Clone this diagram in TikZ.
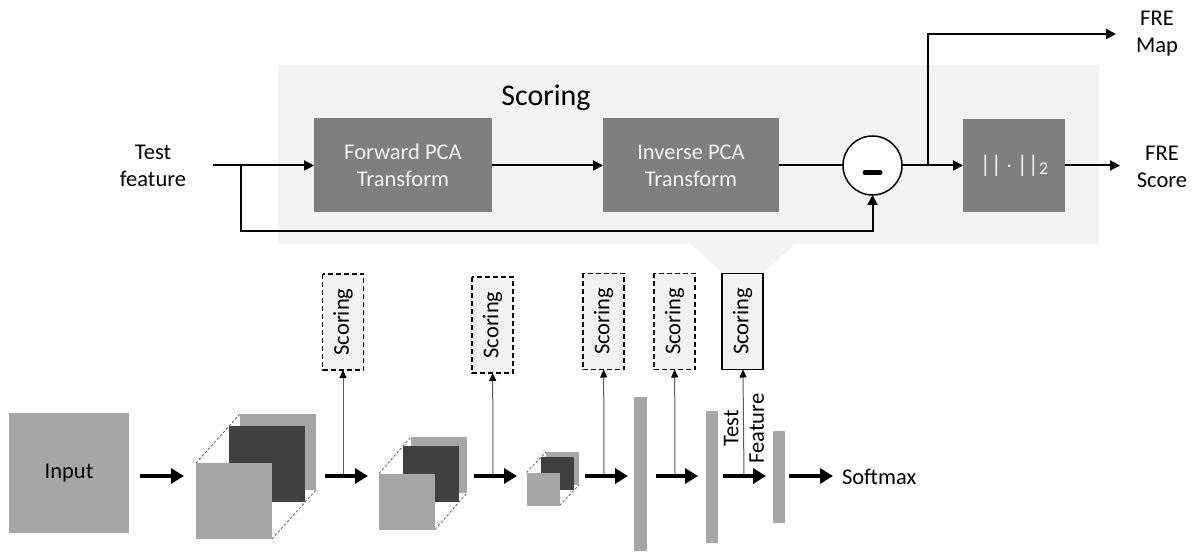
\documentclass[tikz,border=0pt]{standalone}
\usepackage{fontspec}
\setmainfont{Carlito}
\usetikzlibrary{arrows.meta}
\definecolor{panelgray}{HTML}{F2F2F2}
\definecolor{boxgray}{HTML}{7F7F7F}
\definecolor{lightsq}{HTML}{A6A6A6}
\definecolor{darksq}{HTML}{404040}
\definecolor{thinline}{HTML}{5A5A5A}
\begin{document}
\begin{tikzpicture}[x=1pt,y=-1pt,
  every node/.style={font=\fontsize{22.5}{27}\selectfont, inner sep=0pt, outer sep=0pt},
  pcabox/.style={fill=boxgray, text=panelgray, minimum height=94pt, align=center},
  sumcircle/.style={circle, draw=black, line width=1.5pt, fill=white, minimum size=59pt},
  toparrow/.style={line width=2pt, -{Triangle[length=10pt,width=10pt]}},
  topline/.style={line width=2pt},
  fatarrow/.style={line width=4.5pt, -{Triangle[length=13pt,width=15pt]}},
  tap/.style={line width=1pt, draw=thinline, -{Triangle[length=8pt,width=7pt,fill=black,color=black]}},
  scorebox/.style={rotate=90, fill=panelgray, draw=black, line width=1.3pt, minimum width=96pt, minimum height=41pt},
  dashbox/.style={dash pattern=on 5pt off 3pt},
  sqlight/.style={fill=lightsq},
  sqdark/.style={fill=darksq},
  cubeedge/.style={draw=black!65, line width=0.8pt, dash pattern=on 2.5pt off 2pt},
  bar/.style={fill=lightsq, minimum width=12pt}
]
\path[use as bounding box] (0,0) rectangle (1199,553);

% ---------- Scoring panel ----------
\fill[panelgray] (278,65) -- (1099,65) -- (1099,244) -- (795,244) -- (763,273) -- (722,273) -- (691,244) -- (278,244) -- cycle;
\node[font=\fontsize{30}{36}\selectfont] (title) at (546,98) {Scoring};

\node (testfeat) at (153,166) [align=center] {Test\\feature};
\node[pcabox, minimum width=178pt] (fwd) at (403,165.5) {Forward PCA\\Transform};
\node[pcabox, minimum width=176pt] (inv) at (691,165.5) {Inverse PCA\\Transform};
\node[sumcircle] (minus) at (872.5,165.5) {};
\draw[line width=5pt, line cap=round] ([xshift=-7.5pt,yshift=-7pt]minus.center) -- ([xshift=7.5pt,yshift=-7pt]minus.center);
\node[pcabox, minimum width=102pt, minimum height=93pt, font=\fontsize{24}{28}\selectfont] (norm) at (1014,166) {||\,$\cdot$\,||\raisebox{-2pt}{\fontsize{18}{20}\selectfont 2}};
\node[align=center] (fremap) at (1157,34) {FRE\\Map};
\node[align=center] (frescore) at (1162,167) {FRE\\Score};

\coordinate (tin) at (213,165.5);
\coordinate (tb) at (241,165.5);
\coordinate (fb) at (241,231);
\coordinate (br) at (928,165.5);
\coordinate (mapend) at (1116,34);
\coordinate (scoreend) at (1120,165.5);

\draw[toparrow] (tin) -- (fwd.west);
\draw[toparrow] (tb) -- (fb) -| (minus.south);
\draw[toparrow] (fwd) -- (inv);
\draw[topline] (inv) -- (minus);
\draw[toparrow] (minus) -- (norm.west |- minus);
\draw[toparrow] (br) |- (mapend);
\draw[toparrow] (norm.east |- scoreend) -- (scoreend);

% ---------- Network ----------
\node[sqlight, minimum size=120pt] (input) at (69,473) {Input};

% cube 1
\node[minimum size=76pt] (c1b) at (278,452) {};
\node[minimum size=76pt] (c1f) at (234,501) {};
\draw[cubeedge] (c1f.north west) -- (c1b.north west);
\draw[cubeedge] (c1f.south east) -- (c1b.south east);
\node[sqlight, minimum size=76pt] at (c1b) {};
\node[sqdark, minimum size=76pt] (c1d) at (266.5,463.5) {};
\node[sqlight, minimum size=76pt] at (c1f) {};

% cube 2
\node[minimum size=56pt] (c2b) at (439,465) {};
\node[minimum size=56pt] (c2f) at (407,501.5) {};
\draw[cubeedge] (c2f.north west) -- (c2b.north west);
\draw[cubeedge] (c2f.south east) -- (c2b.south east);
\node[sqlight, minimum size=56pt] at (c2b) {};
\node[sqdark, minimum size=56pt] (c2d) at (431,474) {};
\node[sqlight, minimum size=56pt] at (c2f) {};

% cube 3
\node[minimum size=33pt] (c3b) at (562.5,468.5) {};
\node[minimum size=33pt] (c3f) at (543,489) {};
\draw[cubeedge] (c3f.north west) -- (c3b.north west);
\draw[cubeedge] (c3f.south east) -- (c3b.south east);
\node[sqlight, minimum size=33pt] at (c3b) {};
\node[sqdark, minimum size=33pt] (c3d) at (557,473) {};
\node[sqlight, minimum size=33pt] at (c3f) {};

% fully connected bars
\node[bar, minimum height=154pt, minimum width=13pt] (b1) at (640.5,474) {};
\node[bar, minimum height=132pt] (b2) at (711.5,477) {};
\node[bar, minimum height=92pt] (b3) at (779,477) {};

% scoring boxes
\node[scorebox, dashbox] (s1) at (343,322) {Scoring};
\node[scorebox, dashbox] (s2) at (492.5,325) {Scoring};
\node[scorebox, dashbox] (s3) at (603.5,321.5) {Scoring};
\node[scorebox, dashbox] (s4) at (674.5,321.5) {Scoring};
\node[scorebox, line width=1.6pt] (s5) at (742.5,321.5) {Scoring};

% tap points
\coordinate (t1) at (343,476);
\coordinate (t2) at (493,476);
\coordinate (t3) at (604,476);
\coordinate (t4) at (675,476);
\coordinate (t5) at (744,476);
\draw[tap] (t1) -- (s1);
\draw[tap] (t2) -- (s2);
\draw[tap] (t3) -- (s3);
\draw[tap] (t4) -- (s4);
\draw[tap] (t5) -- (s5);

\node[rotate=90, align=center, font=\fontsize{22.5}{25.5}\selectfont] (tflabel) at (744,428.5) {Test\\Feature};

% main thick arrows
\coordinate (a1s) at (140,476); \coordinate (a1e) at (184,476);
\coordinate (a2s) at (325,476); \coordinate (a2e) at (368,476);
\coordinate (a3s) at (474,476); \coordinate (a3e) at (517,476);
\coordinate (a4s) at (585,476); \coordinate (a4e) at (628,476);
\coordinate (a5s) at (656,476); \coordinate (a5e) at (698,476);
\coordinate (a6s) at (723,476); \coordinate (a6e) at (766,476);
\coordinate (a7s) at (789,476); \coordinate (a7e) at (833,476);
\draw[fatarrow] (a1s) -- (a1e);
\draw[fatarrow] (a2s) -- (a2e);
\draw[fatarrow] (a3s) -- (a3e);
\draw[fatarrow] (a4s) -- (a4e);
\draw[fatarrow] (a5s) -- (a5e);
\draw[fatarrow] (a6s) -- (a6e);
\draw[fatarrow] (a7s) -- (a7e);

\node[anchor=west] (softmax) at (842,477) {Softmax};
\end{tikzpicture}
\end{document}
